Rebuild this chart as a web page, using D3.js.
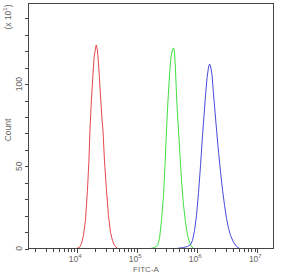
<!DOCTYPE html>
<html>
<head>
<meta charset="utf-8">
<script src="https://cdn.jsdelivr.net/npm/d3@7"></script>
<style>
  body { margin: 0; background: #fff; }
  svg { display: block; font-family: "Liberation Sans", Arial, sans-serif; }
  .axis path, .axis line { stroke: #444; shape-rendering: crispEdges; }
  .curve { fill: none; stroke-width: 1; }
</style>
</head>
<body>
<div id="chart"></div>
<script>
// FITC-A values and counts (x10^1)
var redFitc   = [9730, 10920, 11800, 12740, 13750, 14850, 15730, 16340, 17290, 18320, 19190, 19810, 20740, 21790, 23080, 24440, 25880, 26910, 28500, 30780, 33240, 35900, 38760, 41860, 46970];
var redCount  = [0, 0.6, 3, 7.9, 17.1, 35.4, 53.7, 72, 90.2, 105.5, 116.5, 119.5, 123.8, 120.7, 108.5, 93.3, 79.3, 72, 53.7, 35.4, 20.1, 9.8, 4.9, 1.8, 0];

var greenFitc  = [166600, 194300, 218000, 235300, 254100, 274400, 290600, 307800, 326000, 345300, 365700, 387300, 402700, 418500, 434800, 451900, 469600, 487900, 516800, 547300, 591200, 638300, 689300, 744300, 803500, 867700];
var greenCount = [0, 0.6, 1.8, 6.1, 17.1, 32.3, 50.6, 72, 90.2, 105.5, 116.5, 120.7, 122, 119.5, 108.5, 93.3, 81.1, 72, 56.7, 41.5, 26.2, 15.9, 7.9, 3.7, 1.2, 0];

var blueFitc  = [451900, 591200, 689300, 773400, 835200, 901600, 973400, 1051200, 1135000, 1225600, 1298000, 1375000, 1456500, 1543000, 1603000, 1666000, 1765000, 1870000, 1981000, 2098000, 2265000, 2446000, 2641000, 2851000, 3078000, 3324000, 3589000, 4027000, 4519000, 5070000];
var blueCount = [0, 0.6, 1.2, 2.4, 4.9, 11, 20.1, 34.1, 50.6, 68.9, 81.1, 93.3, 103.7, 110.4, 112.2, 111, 105.5, 93.3, 82.9, 72, 58.5, 46.3, 35.4, 26.2, 18.3, 12.2, 7.9, 3.7, 1.2, 0];

var xMajor = [1e4, 1e5, 1e6, 1e7];
var yMajor = [0, 50, 100];

function init(){
    var w = 282;
    var h = 275;
    var left = 28.5, right = 273.5, top = 3.5, bottom = 248.5;

    var svg = d3.select("#chart")
                .append("svg")
                .attr("width", w)
                .attr("height", h);

    var xScale = d3.scaleLog()
                .domain([Math.pow(10, 3.19), Math.pow(10, 7.27)])
                .range([left, right]);

    var yScale = d3.scaleLinear()
                .domain([0, 149])
                .range([bottom, top]);

    var line = d3.line()
                .x(function(d) { return xScale(d[0]); })
                .y(function(d) { return yScale(d[1]); });

    var series = [
        {fitc: redFitc, count: redCount, color: "#e8474f"},
        {fitc: greenFitc, count: greenCount, color: "#3fe03f"},
        {fitc: blueFitc, count: blueCount, color: "#4848dc"}
    ];

    series.forEach(function(s){
        svg.append("path")
            .datum(d3.zip(s.fitc, s.count))
            .attr("class", "curve")
            .attr("stroke", s.color)
            .attr("d", line);
    });

    // frame
    svg.append("rect")
        .attr("x", left)
        .attr("y", top)
        .attr("width", right - left)
        .attr("height", bottom - top)
        .attr("fill", "none")
        .attr("stroke", "#444")
        .attr("shape-rendering", "crispEdges");

    //x axis
    var xTicks = xScale.ticks();
    var xAxis = d3.axisBottom(xScale)
        .tickValues(xTicks)
        .tickSize(4)
        .tickFormat("");
    var gx = svg.append("g")
        .attr("class", "axis")
        .attr("transform", "translate(0," + bottom + ")")
        .call(xAxis);
    gx.select(".domain").remove();
    gx.selectAll(".tick line")
        .attr("y2", function(d) { return xMajor.indexOf(d) >= 0 ? 4 : 3; });

    xMajor.forEach(function(v){
        var t = svg.append("text")
            .attr("x", xScale(v) - 2)
            .attr("y", bottom + 13)
            .attr("text-anchor", "middle")
            .attr("fill", "#666")
            .attr("font-size", "8.5px")
            .text("10");
        t.append("tspan")
            .attr("dy", -4)
            .attr("font-size", "6px")
            .text(Math.round(Math.log10(v)));
    });

    svg.append("text")
        .attr("x", 146)
        .attr("y", 272)
        .attr("text-anchor", "middle")
        .attr("fill", "#666")
        .attr("font-size", "8px")
        .text("FITC-A");

    //y axis
    var yAxis = d3.axisLeft(yScale)
        .tickValues(d3.range(0, 150, 10))
        .tickSize(4)
        .tickFormat("");
    var gy = svg.append("g")
        .attr("class", "axis")
        .attr("transform", "translate(" + left + ",0)")
        .call(yAxis);
    gy.select(".domain").remove();

    yMajor.forEach(function(v){
        svg.append("text")
            .attr("transform", "translate(" + (left - 7) + "," + yScale(v) + ") rotate(-90)")
            .attr("text-anchor", "middle")
            .attr("fill", "#666")
            .attr("font-size", "8.5px")
            .text(v);
    });

    svg.append("text")
        .attr("transform", "translate(11,130) rotate(-90)")
        .attr("text-anchor", "middle")
        .attr("fill", "#666")
        .attr("font-size", "8.5px")
        .text("Count");

    var ex = svg.append("text")
        .attr("transform", "translate(11,17) rotate(-90)")
        .attr("text-anchor", "middle")
        .attr("fill", "#666")
        .attr("font-size", "8.5px")
        .text("(x 10");
    ex.append("tspan")
        .attr("dy", -4)
        .attr("font-size", "6px")
        .text("1");
    ex.append("tspan")
        .attr("dy", 4)
        .text(")");
}
window.onload = init;
</script>
</body>
</html>
